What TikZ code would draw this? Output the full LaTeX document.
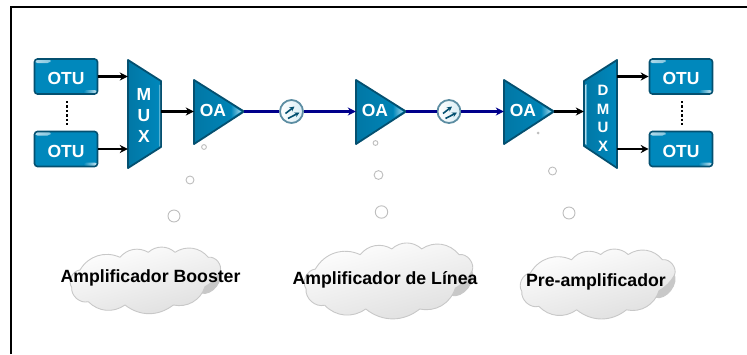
\documentclass[tikz,border=0pt]{standalone}
\usepackage{fontspec}
\setmainfont{Liberation Sans}
\usepackage{xcolor}
\usetikzlibrary{arrows.meta, positioning, calc}
\definecolor{otublue}{RGB}{0,136,188}
\definecolor{otudark}{RGB}{4,80,112}
\definecolor{linkblue}{RGB}{0,0,139}
\definecolor{cloudline}{RGB}{200,200,200}
\definecolor{cloudgrey}{RGB}{222,222,222}
\definecolor{bubbleline}{RGB}{190,190,190}

\begin{document}
\begin{tikzpicture}[
    x=1pt, y=-1pt,
    otubox/.style={draw=otudark, line width=1.6pt, rounded corners=3pt, fill=otublue, minimum width=63pt, minimum height=35pt, inner sep=0pt, text=white, text height=16.5pt, text depth=0pt, font=\fontsize{17.5}{20}\selectfont\bfseries,
        path picture={
            \shade[left color=white!70!otublue, right color=otublue] (path picture bounding box.north west) rectangle ++(16pt,-4pt);
            \shade[left color=otublue, right color=white!85!otublue] ($(path picture bounding box.south east)+(-14pt,0)$) rectangle ++(14pt,4pt);
        }},
    blockbox/.style={inner sep=0pt, text=white, align=center, font=\bfseries},
    shapefill/.style={draw=otudark, line width=1.8pt, line join=round, left color=otublue!70!otudark, right color=otublue},
    fiberbox/.style={circle, draw=otudark!65, line width=1.8pt, minimum size=23pt, inner sep=0pt, left color=white, right color=otublue!15},
    arrow/.style={-{Stealth[length=8pt, width=8pt]}, line width=2.3pt},
    linkline/.style={line width=2.3pt, linkblue},
    link/.style={-{Stealth[length=8pt, width=8pt]}, linkline},
    bubble/.style={circle, draw=bubbleline, line width=.9pt, fill=white, inner sep=0pt},
    cloudfront/.style={draw=cloudline, line width=.9pt, line join=round, left color=white, right color=cloudgrey, shading angle=15},
    cloudrear/.style={draw=cloudline, line width=.9pt, fill=cloudgrey!90!black},
    cloudtext/.style={inner sep=0pt, font=\fontsize{17.7}{20}\selectfont\bfseries}
]
    \useasboundingbox (0,0) rectangle (747,354);

    % Frame
    \coordinate (framebl) at (11,354);
    \coordinate (frametl) at (11,7);
    \coordinate (frametr) at (747,7);
    \draw[line width=2pt] (framebl) -- (frametl) -- (frametr);

    % Left side
    \node[otubox] (otu1) at (66,76.5) {OTU};
    \node[otubox] (otu2) at (66,149) {OTU};
    \draw[shapefill] (128,60) -- (161,81) -- (161,147) -- (128,168) -- cycle;
    \shade[left color=otublue, right color=white!70!otublue] (158,84) -- (160,85) -- (160,146) -- (158,147) -- cycle;
    \node[blockbox, minimum width=33pt, minimum height=108pt] (mux) at (144.5,114) {};
    \node[blockbox, font=\fontsize{17.5}{21}\selectfont\bfseries] (muxtext) at (144,115) {M\\U\\X};

    % Amplifiers
    \foreach \x/\n in {194/oa1, 356/oa2, 504/oa3} {
        \draw[shapefill] (\x,80) -- (\x+50,111.5) -- (\x,144) -- cycle;
        \shade[left color=otublue, right color=white!65!otublue] (\x+37,105) -- (\x+47,111.5) -- (\x+37,118) -- cycle;
        \node[blockbox, minimum width=50pt, minimum height=64pt] (\n) at (\x+25,111.5) {};
        \node[blockbox, font=\fontsize{17.5}{20}\selectfont\bfseries] (\n text) at (\x+19,110.5) {OA};
    }

    % Fibre spans
    \foreach \x/\n in {291.5/span1, 449/span2} {
        \node[fiberbox] (\n) at (\x,111.5) {};
        \draw[-{Stealth[length=5pt, width=5pt]}, line width=1.6pt, otudark] (\x-6,113.5) -- (\x+3,106.5);
        \draw[-{Stealth[length=5pt, width=5pt]}, line width=1.6pt, otudark] (\x-3.5,118.5) -- (\x+8,112.5);
    }

    % Right side
    \draw[shapefill] (617,60) -- (584,81) -- (584,146) -- (617,168) -- cycle;
    \shade[left color=white!70!otublue, right color=otublue] (585,85) -- (587,84) -- (587,145) -- (585,144) -- cycle;
    \node[blockbox, minimum width=33pt, minimum height=108pt] (dmux) at (600.5,114) {};
    \node[blockbox, font=\fontsize{15}{18.5}\selectfont\bfseries] (dmuxtext) at (603,118.5) {D\\M\\U\\X};
    \node[otubox] (otu3) at (681,76.5) {OTU};
    \node[otubox] (otu4) at (681,149) {OTU};

    % Arrows
    \draw[arrow] (otu1) -- (otu1 -| mux.west);
    \draw[arrow] (otu2) -- (otu2 -| mux.west);
    \draw[arrow] (oa1.west -| mux.east) -- (oa1.west);
    \draw[linkline] (oa1.east) -- (span1);
    \draw[link] (span1) -- (oa2.west);
    \draw[linkline] (oa2.east) -- (span2);
    \draw[link] (span2) -- (oa3.west);
    \draw[arrow] (oa3.east) -- (oa3.east -| dmux.west);
    \draw[arrow] (otu3 -| dmux.east) -- (otu3);
    \draw[arrow] (otu4 -| dmux.east) -- (otu4);

    % Dots
    \coordinate (dotsa) at (67,101);
    \coordinate (dotsb) at (67,126);
    \coordinate (dotsc) at (682,101);
    \coordinate (dotsd) at (682,126);
    \draw[line width=2.4pt, dotted] (dotsa) -- (dotsb);
    \draw[line width=2.4pt, dotted] (dotsc) -- (dotsd);

    % Bubbles
    \foreach \x/\y/\r/\n in {204/147/2.4/b1, 190/180/4/b2, 174/216/6/b3, 375.5/143/2.4/b4, 378.5/175/4.4/b5, 381.5/212/6.2/b6, 552.5/171/4/b8, 569/213/6/b9} {
        \node[bubble, minimum size=2*\r pt] (\n) at (\x,\y) {};
    }
    \node[circle, fill=bubbleline, minimum size=3pt, inner sep=0pt] (b7) at (538,133) {};

    % Clouds
    \foreach \x/\y/\sx/\sy in {69/248/1/1, 303/244/1.12/1.14, 519/250/1.03/1.05} {
        \begin{scope}[shift={(\x,\y)}, xscale=\sx, yscale=\sy]
            \draw[cloudrear] (150,22) to[bend left=70] (132,45) -- (110,30) -- cycle;
            \draw[cloudfront] (11,22) to[bend left=42] (51,9.3) to[bend left=40] (79.3,4.3)
                to[bend left=42] (106,4.3) to[bend left=42] (139.3,9.3) to[bend left=62] (151,23.7)
                to[bend left=15] (136,38.7) to[bend left=42] (104.3,57) to[bend left=38] (56,57)
                to[bend left=40] (19.3,53.7) to[bend left=55] (2.7,39.3) to[bend left=60] cycle;
        \end{scope}
    }
    \node[cloudtext] (label1) at (150.5,278) {Amplificador Booster};
    \node[cloudtext] (label2) at (385,280) {Amplificador de Línea};
    \node[cloudtext] (label3) at (596,282) {Pre-amplificador};
\end{tikzpicture}
\end{document}
